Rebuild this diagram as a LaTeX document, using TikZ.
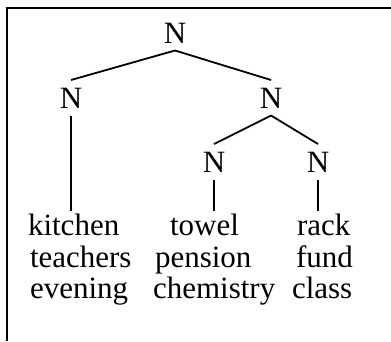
\documentclass[tikz,border=0pt]{standalone}
\usepackage{fontspec}
\setmainfont{Liberation Serif}
\begin{document}
\begin{tikzpicture}[x=1pt,y=-1pt,
  cat/.style={font=\fontsize{31}{32}\selectfont, anchor=base, text height=20.5pt, text depth=0pt, inner sep=7.5pt, outer sep=0pt},
  word/.style={font=\fontsize{31}{32}\selectfont, anchor=base west, text height=24pt, text depth=0pt, inner sep=0pt, outer sep=0pt},
  branch/.style={line width=1.8pt},
  frame/.style={line width=2pt}]
\useasboundingbox (0,0) rectangle (391,341);
\draw[frame] (391,8) -- (7,8) -- (7,341);
% category nodes
\node[cat] (top) at (175,43) {N};
\node[cat] (l) at (71,108) {N};
\node[cat] (r) at (271,108) {N};
\node[cat] (rl) at (214,172) {N};
\node[cat] (rr) at (318,172) {N};
% words
\node[word] (w11) at (28,235) {kitchen};
\node[word] (w12) at (170,235) {towel};
\node[word] (w13) at (297,235) {rack};
\node[word] (w21) at (30,267) {teachers};
\node[word] (w22) at (155,267) {pension};
\node[word] (w23) at (296,267) {fund};
\node[word] (w31) at (30,298) {evening};
\node[word] (w32) at (153,298) {chemistry};
\node[word] (w33) at (292,298) {class};
% branches
\draw[branch] (top.south) -- (l.north);
\draw[branch] (top.south) -- (r.north);
\draw[branch] (r.south) -- (rl.north);
\draw[branch] (r.south) -- (rr.north);
\draw[branch] (l.south) -- (l.south |- w11.north);
\draw[branch] (rl.south) -- (rl.south |- w12.north);
\draw[branch] (rr.south) -- (rr.south |- w13.north);
\end{tikzpicture}
\end{document}
